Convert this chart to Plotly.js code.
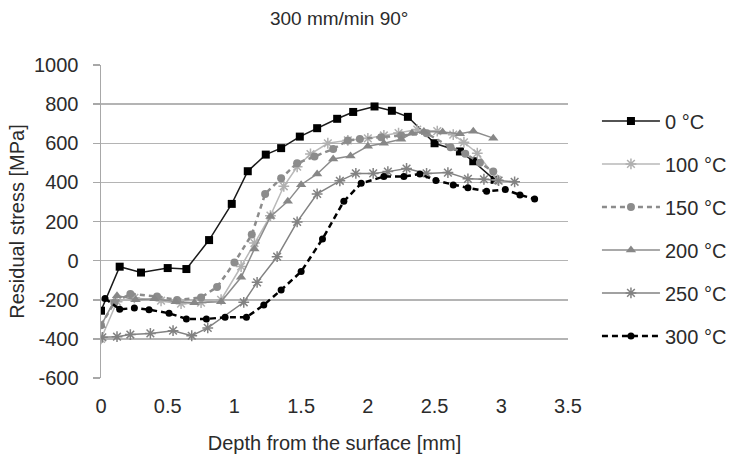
<!DOCTYPE html>
<html>
<head>
<meta charset="utf-8">
<script src="https://cdn.plot.ly/plotly-3.0.1.min.js"></script>
<style>html,body{margin:0;padding:0;background:#fff;}#chart{width:731px;height:455px;}</style>
</head>
<body>
<div id="chart"></div>
<script>
const seriesNames = ["0 °C", "100 °C", "150 °C", "200 °C", "250 °C", "300 °C"];

const x0 = [0, 0.14, 0.30, 0.50, 0.64, 0.81, 0.98, 1.10, 1.235, 1.35, 1.49, 1.62, 1.77, 1.89, 2.05, 2.18, 2.30, 2.50, 2.69, 2.79, 2.95];
const y0 = [-256, -31, -61, -38, -43, 105, 290, 457, 542, 575, 634, 677, 725, 760, 788, 766, 735, 600, 558, 508, 413];

const x100 = [0, 0.12, 0.25, 0.45, 0.60, 0.75, 0.90, 1.05, 1.15, 1.27, 1.37, 1.47, 1.57, 1.70, 1.85, 2.00, 2.12, 2.23, 2.37, 2.52, 2.64, 2.72, 2.82, 2.97];
const y100 = [-400, -210, -190, -205, -220, -215, -200, -30, 90, 230, 380, 480, 545, 600, 615, 625, 640, 652, 670, 662, 644, 605, 549, 413];

const x150 = [0, 0.10, 0.22, 0.42, 0.57, 0.75, 0.87, 1.00, 1.13, 1.23, 1.35, 1.47, 1.60, 1.74, 1.85, 1.94, 2.10, 2.25, 2.44, 2.62, 2.73, 2.84, 2.94];
const y150 = [-330, -215, -170, -184, -201, -188, -135, -10, 133, 341, 421, 498, 532, 571, 614, 622, 631, 640, 651, 580, 546, 500, 455];

const x200 = [0, 0.12, 0.26, 0.40, 0.56, 0.70, 0.90, 1.05, 1.15, 1.27, 1.40, 1.50, 1.62, 1.74, 1.87, 2.00, 2.12, 2.25, 2.33, 2.42, 2.56, 2.69, 2.79, 2.94];
const y200 = [-332, -179, -200, -195, -210, -215, -210, -85, 60, 225, 303, 388, 443, 520, 535, 585, 600, 620, 651, 660, 657, 648, 661, 626];

const x250 = [0.01, 0.12, 0.22, 0.37, 0.54, 0.68, 0.80, 1.07, 1.17, 1.32, 1.47, 1.62, 1.79, 1.91, 2.04, 2.15, 2.29, 2.44, 2.60, 2.75, 2.87, 2.98, 3.10];
const y250 = [-392, -389, -378, -372, -358, -384, -344, -213, -111, 20, 198, 341, 408, 446, 446, 455, 471, 446, 450, 418, 416, 409, 403];

const x300 = [0.03, 0.14, 0.25, 0.36, 0.51, 0.64, 0.79, 0.93, 1.09, 1.22, 1.35, 1.50, 1.66, 1.82, 1.95, 2.12, 2.27, 2.39, 2.51, 2.64, 2.75, 2.89, 3.03, 3.14, 3.25];
const y300 = [-193, -249, -242, -251, -269, -298, -298, -290, -290, -227, -150, -56, 111, 303, 395, 430, 430, 443, 409, 387, 372, 354, 363, 336, 315];

const xTickVals = [0, 0.5, 1, 1.5, 2, 2.5, 3, 3.5];
const xTickText = ["0", "0.5", "1", "1.5", "2", "2.5", "3", "3.5"];
const yTickVals = [-600, -400, -200, 0, 200, 400, 600, 800, 1000];
const yTickText = ["-600", "-400", "-200", "0", "200", "400", "600", "800", "1000"];

const FONT = "'Liberation Sans', Arial, sans-serif";
const TXT = "#2b2b2b";

const styles = [
  {line: {color: "#1a1a1a", width: 1.5, dash: "solid"}, marker: {symbol: "square", size: 8, color: "#000"}},
  {line: {color: "#b9b9b9", width: 1.5, dash: "solid"}, marker: {symbol: "asterisk-open", size: 9, color: "#b0b0b0", line: {color: "#b0b0b0", width: 1.5}}},
  {line: {color: "#8c8c8c", width: 2.5, dash: "5px,4px"}, marker: {symbol: "circle", size: 8, color: "#8c8c8c"}},
  {line: {color: "#8c8c8c", width: 1.5, dash: "solid"}, marker: {symbol: "triangle-up", size: 9, color: "#878787"}},
  {line: {color: "#828282", width: 1.5, dash: "solid"}, marker: {symbol: "asterisk-open", size: 9, color: "#828282", line: {color: "#828282", width: 1.5}}},
  {line: {color: "#000", width: 2.5, dash: "6px,4px"}, marker: {symbol: "circle", size: 7, color: "#000"}}
];
const xs = [x0, x100, x150, x200, x250, x300];
const ys = [y0, y100, y150, y200, y250, y300];

const traces = seriesNames.map((n, i) => ({
  type: "scatter", mode: "lines+markers", name: n,
  x: xs[i], y: ys[i], legendgroup: "g" + i,
  line: styles[i].line, marker: styles[i].marker
}));

const layout = {
  width: 731, height: 455,
  margin: {l: 101, r: 163, t: 65, b: 77, autoexpand: false},
  paper_bgcolor: "#fff", plot_bgcolor: "#fff",
  font: {family: FONT, size: 20, color: TXT},
  title: {text: "300 mm/min 90°", font: {family: FONT, size: 19, color: TXT},
          x: 0.464, xref: "container", xanchor: "center", y: 0.96, yref: "container", yanchor: "middle"},
  xaxis: {range: [0, 3.5], tickvals: xTickVals, ticktext: xTickText, showgrid: false, zeroline: false,
          showline: false, ticks: "", ticklabelstandoff: 14, automargin: false,
          tickfont: {family: FONT, size: 20, color: TXT},
          title: {text: "Depth from the surface [mm]", font: {family: FONT, size: 20, color: TXT}, standoff: 19}},
  xaxis2: {range: [0, 3.5], matches: "x", overlaying: "x", anchor: "free", position: 0.375, side: "bottom",
           tickvals: xTickVals, showticklabels: false, ticks: "outside", ticklen: 7, tickwidth: 1.5, tickcolor: "#a8a8a8",
           showgrid: false, zeroline: false, showline: false},
  yaxis: {range: [-600, 1000], tickvals: yTickVals, ticktext: yTickText, showgrid: true, gridcolor: "#b4b4b4", gridwidth: 1.5,
          zeroline: false, showline: true, linecolor: "#a8a8a8", linewidth: 1.5, automargin: false,
          ticks: "outside", ticklen: 7, tickwidth: 1.5, tickcolor: "#a8a8a8", ticklabelstandoff: 10,
          tickfont: {family: FONT, size: 20, color: TXT},
          title: {text: "Residual stress [MPa]", font: {family: FONT, size: 20, color: TXT}, standoff: 4}},
  legend: {x: 1.062, xanchor: "left", y: 0.478, yanchor: "middle", font: {family: FONT, size: 20, color: TXT},
           tracegroupgap: 14, itemwidth: 58, bgcolor: "rgba(0,0,0,0)"},
  showlegend: true
};

Plotly.newPlot("chart", traces, layout, {displayModeBar: false, staticPlot: true});
</script>
</body>
</html>
